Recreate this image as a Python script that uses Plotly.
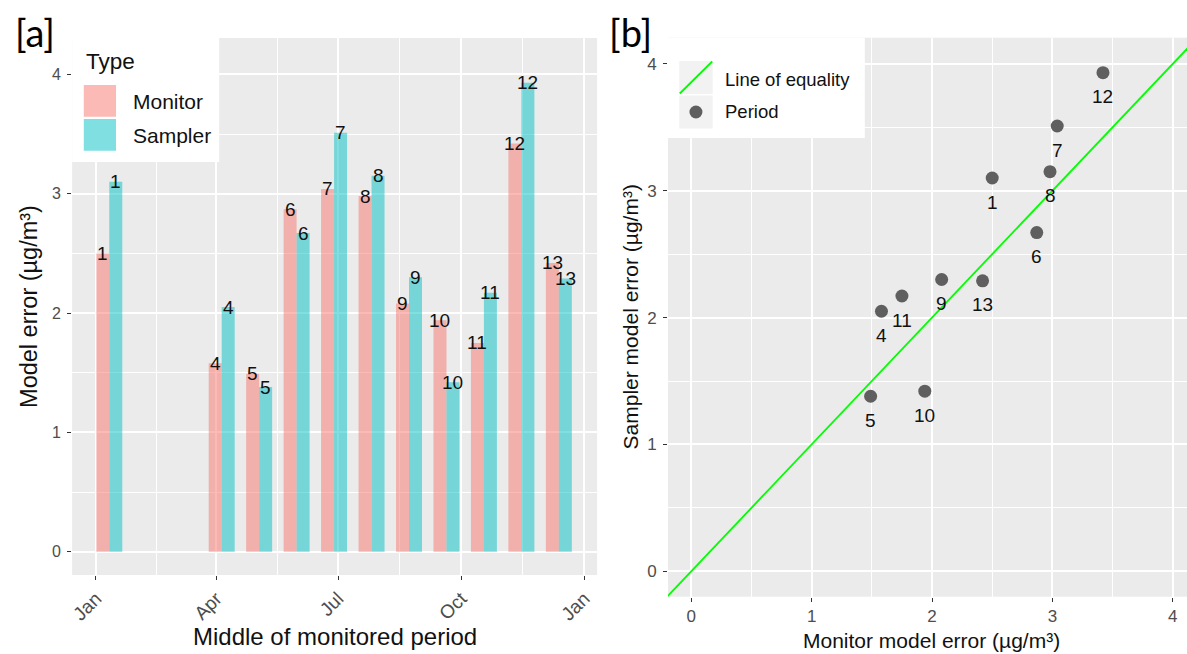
import plotly.graph_objects as go

# ---------------- data ----------------
periods = ["1", "4", "5", "6", "7", "8", "9", "10", "11", "12", "13"]
period_mid = ["2019-01-11", "2019-04-05", "2019-05-03", "2019-05-31", "2019-06-28",
              "2019-07-26", "2019-08-23", "2019-09-20", "2019-10-18", "2019-11-15",
              "2019-12-13"]
monitor_err = [2.50, 1.58, 1.49, 2.87, 3.04, 2.98, 2.08, 1.94, 1.75, 3.42, 2.42]
sampler_err = [3.10, 2.05, 1.38, 2.67, 3.51, 3.15, 2.30, 1.42, 2.17, 3.93, 2.29]

month_tickvals = ["2019-01-01", "2019-04-01", "2019-07-01", "2019-10-01", "2020-01-01"]
month_ticktext = ["Jan", "Apr", "Jul", "Oct", "Jan"]
month_minor = ["2019-02-15", "2019-05-16 12:00", "2019-08-16", "2019-11-16"]
err_ticks = [0, 1, 2, 3, 4]
err_minor = [0.5, 1.5, 2.5, 3.5]

# ---------------- geometry helpers ----------------
W, H = 1187, 654
FONT = "Liberation Sans, Arial, sans-serif"
MON_COL = "rgba(248,118,109,0.5)"
SAM_COL = "rgba(0,191,196,0.5)"
PT_COL = "#5F5F5F"
GREEN = "#00FF00"


def fx(p):
    return p / W


def fy(p):
    return 1 - p / H


# plot areas in px
A_L, A_R, A_T, A_B = 69.3, 595.6, 38.0, 575.0
B_L, B_R, B_T, B_B = 666.7, 1187.0, 37.7, 596.7

a_xrange = ["2018-12-14 05:00", "2020-01-10 14:00"]
a_yrange = [-0.195, 4.305]
b_xrange = [-0.193, 4.118]
b_yrange = [-0.2, 4.206]

fig = go.Figure()

# ---- panel a bars ----
fig.add_trace(go.Bar(x=period_mid, y=monitor_err, name="Monitor",
                     marker=dict(color=MON_COL, line=dict(width=0)),
                     xaxis="x", yaxis="y", showlegend=False, hoverinfo="x+y"))
fig.add_trace(go.Bar(x=period_mid, y=sampler_err, name="Sampler",
                     marker=dict(color=SAM_COL, line=dict(width=0)),
                     xaxis="x", yaxis="y", showlegend=False, hoverinfo="x+y"))

# ---- panel b ----
eq = [b_yrange[0], 4.4]
fig.add_trace(go.Scatter(x=eq, y=eq, mode="lines", line=dict(color=GREEN, width=1.8),
                         xaxis="x2", yaxis="y2", showlegend=False, hoverinfo="skip"))
fig.add_trace(go.Scatter(x=monitor_err, y=sampler_err, mode="markers",
                         marker=dict(size=13, color=PT_COL), text=periods,
                         xaxis="x2", yaxis="y2", showlegend=False))

annotations = []
# bar labels
for d, v, p in zip(period_mid, monitor_err, periods):
    annotations.append(dict(x=d, y=v, xref="x", yref="y", text=p, showarrow=False,
                            xshift=-6.5, font=dict(family=FONT, size=19, color="#111111")))
for d, v, p in zip(period_mid, sampler_err, periods):
    annotations.append(dict(x=d, y=v, xref="x", yref="y", text=p, showarrow=False,
                            xshift=6.5, font=dict(family=FONT, size=19, color="#111111")))
# point labels
for mx, sy, p in zip(monitor_err, sampler_err, periods):
    annotations.append(dict(x=mx, y=sy, xref="x2", yref="y2", text=p, showarrow=False,
                            yshift=-24, font=dict(family=FONT, size=19, color="#111111")))


def ptext(x, y, text, size, color="#111111", family=FONT, angle=0, xanchor="center",
          yanchor="middle"):
    annotations.append(dict(x=fx(x), y=fy(y), xref="paper", yref="paper", text=text,
                            showarrow=False, textangle=angle, xanchor=xanchor,
                            yanchor=yanchor, font=dict(family=family, size=size, color=color)))


# axis titles
ptext(26, 306, "Model error (µg/m³)", 23.5, angle=-90)
ptext(332.5, 636, "Middle of monitored period", 24)
ptext(629, 317, "Sampler model error (µg/m³)", 21, angle=-90)
ptext(931, 640, "Monitor model error (µg/m³)", 21)
# panel tags
ptext(32, 32, "[a]", 38, color="#000000", family="Lato, Calibri, sans-serif")
ptext(629, 32, "[b]", 38, color="#000000", family="Lato, Calibri, sans-serif")

shapes = []


def prect(x0, y0, x1, y1, fill, line_w=0, line_c="white"):
    shapes.append(dict(type="rect", xref="paper", yref="paper", x0=fx(x0), x1=fx(x1),
                       y0=fy(y1), y1=fy(y0), fillcolor=fill, layer="above",
                       line=dict(width=line_w, color=line_c)))


# legend a
prect(A_L, A_T, 216.7, 162, "white")
prect(81, 85, 113.3, 116.7, MON_COL)
prect(81, 119, 113.3, 150.7, SAM_COL)
ptext(81.5, 61.5, "Type", 22.5, xanchor="left")
ptext(128.3, 101, "Monitor", 21, xanchor="left")
ptext(128.3, 135, "Sampler", 21, xanchor="left")

# legend b
prect(B_L, B_T, 864, 138, "white")
prect(678, 61, 711.5, 94, "#F2F2F2")
prect(678, 95.5, 711.5, 128.5, "#F2F2F2")
shapes.append(dict(type="line", xref="paper", yref="paper", x0=fx(678.5), y0=fy(93.5),
                   x1=fx(711), y1=fy(61.5), layer="above",
                   line=dict(color=GREEN, width=1.8)))
shapes.append(dict(type="circle", xref="paper", yref="paper", x0=fx(688.2), x1=fx(701.2),
                   y0=fy(118.5), y1=fy(105.5), fillcolor=PT_COL, layer="above",
                   line=dict(width=0)))
ptext(722, 79, "Line of equality", 18.5, xanchor="left")
ptext(722, 112, "Period", 18.5, xanchor="left")

grid_major = dict(showgrid=True, gridcolor="white", gridwidth=1.6)
minor_num = dict(showgrid=True, gridcolor="white", gridwidth=0.8, tickvals=err_minor)
tick_style = dict(ticks="outside", ticklen=4, tickwidth=1, tickcolor="#333333",
                  zeroline=False, showline=False)

fig.update_layout(
    width=W, height=H,
    margin=dict(l=0, r=0, t=0, b=0),
    paper_bgcolor="white", plot_bgcolor="#EBEBEB",
    barmode="group", bargap=0.307, bargroupgap=0,
    showlegend=False,
    font=dict(family=FONT, color="#4D4D4D"),
    xaxis=dict(domain=[fx(A_L), fx(A_R)], anchor="y", type="date", range=a_xrange,
               tickmode="array", tickvals=month_tickvals, ticktext=month_ticktext,
               tickangle=-45, tickfont=dict(size=19, color="#4D4D4D"),
               minor=dict(showgrid=True, gridcolor="white", gridwidth=0.8,
                          tickvals=month_minor),
               **grid_major, **tick_style),
    yaxis=dict(domain=[fy(A_B), fy(A_T)], anchor="x", range=a_yrange,
               tickmode="array", tickvals=err_ticks,
               tickfont=dict(size=16, color="#4D4D4D"), ticklabelstandoff=3,
               minor=minor_num, **grid_major, **tick_style),
    xaxis2=dict(domain=[fx(B_L), fx(B_R)], anchor="y2", range=b_xrange,
                tickmode="array", tickvals=err_ticks,
                tickfont=dict(size=17, color="#4D4D4D"),
                minor=minor_num, **grid_major, **tick_style),
    yaxis2=dict(domain=[fy(B_B), fy(B_T)], anchor="x2", range=b_yrange,
                tickmode="array", tickvals=err_ticks,
                tickfont=dict(size=17, color="#4D4D4D"), ticklabelstandoff=3,
                minor=minor_num, **grid_major, **tick_style),
    annotations=annotations,
    shapes=shapes,
)

fig.write_html("out.html",
               config={"displayModeBar": False},
               post_script="document.body.style.margin='0px';"
                           "document.body.style.overflow='hidden';")
